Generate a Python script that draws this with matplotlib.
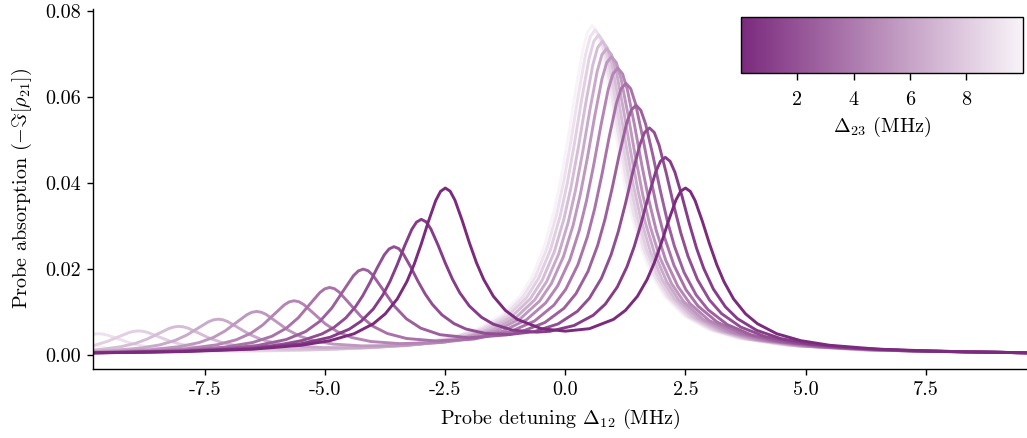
import matplotlib
matplotlib.use("Agg")
import matplotlib.pyplot as plt
from matplotlib.colors import LinearSegmentedColormap, Normalize
from matplotlib.cm import ScalarMappable

plt.rcParams.update({
    "font.family": "serif",
    "font.serif": ["cmr10"],
    "mathtext.fontset": "cm",
    "axes.unicode_minus": False,
    "axes.formatter.use_mathtext": False,
    "font.size": 14.5,
})

# coupling detuning Delta_23 (MHz) of each curve
coupling_detuning = [0.0, 0.91, 1.82, 2.73, 3.64, 4.55, 5.45, 6.36, 7.27, 8.18, 9.09, 10.0]

# probe detuning (MHz) and probe absorption read for each curve
d12_00 = [-10, -8, -6.5, -5.5, -4.9, -4.4, -4, -3.75, -3.5, -3.3, -3.15, -3, -2.85, -2.7, -2.6, -2.5, -2.4, -2.3, -2.15, -2, -1.85, -1.7, -1.5, -1.25, -1, -0.5, 0, 0.5, 1, 1.25, 1.5, 1.7, 1.85, 2, 2.15, 2.3, 2.4, 2.5, 2.6, 2.7, 2.85, 3, 3.15, 3.3, 3.5, 3.75, 4, 4.4, 4.9, 5.5, 6.5, 8, 10]
abs_00 = [.00045, .00078, .00136, .00226, .00333, .00494, .00725, .00957, .01304, .01707, .02104, .02584, .03112, .0359, .03804, .03883, .0381, .03602, .03132, .02613, .02142, .01755, .01366, .01038, .00828, .00612, .00554, .00612, .00828, .01038, .01366, .01755, .02142, .02613, .03132, .03602, .0381, .03883, .03804, .0359, .03112, .02584, .02104, .01707, .01304, .00957, .00725, .00494, .00333, .00226, .00136, .00078, .00045]

d12_01 = [-10, -8, -6.5, -5.5, -4.9, -4.5, -4.25, -4.0, -3.8, -3.65, -3.5, -3.35, -3.2, -3.1, -3.0, -2.9, -2.8, -2.65, -2.5, -2.35, -2.2, -2.0, -1.75, -1.5, -1.1, -0.6, -0.32, 0.18, 0.58, 0.83, 1.08, 1.28, 1.43, 1.58, 1.73, 1.88, 1.98, 2.08, 2.18, 2.28, 2.43, 2.58, 2.73, 2.88, 3.08, 3.33, 3.58, 3.98, 4.48, 5.08, 6.08, 7.58, 10]
abs_01 = [.00046, .00081, .00148, .00262, .00412, .006, .00788, .01069, .01395, .01716, .02103, .0253, .02916, .0309, .03155, .03097, .0293, .02553, .02137, .0176, .01449, .0114, .0088, .00716, .00577, .00531, .00552, .00685, .00925, .01183, .01581, .02049, .02513, .03076, .03698, .04259, .04508, .04597, .04504, .0425, .03682, .03054, .02483, .02012, .01533, .01121, .00846, .00574, .00383, .00257, .00153, .00085, .00044]

d12_02 = [-10, -8, -6.5, -5.97, -5.47, -5.07, -4.82, -4.57, -4.37, -4.22, -4.07, -3.92, -3.77, -3.67, -3.57, -3.47, -3.37, -3.22, -3.07, -2.92, -2.77, -2.57, -2.32, -2.07, -1.67, -1.17, -0.65, -0.15, 0.25, 0.5, 0.75, 0.95, 1.1, 1.25, 1.4, 1.55, 1.65, 1.75, 1.85, 1.95, 2.1, 2.25, 2.4, 2.55, 2.75, 3.0, 3.25, 3.65, 4.15, 4.75, 5.75, 7.25, 10]
abs_02 = [.00047, .00086, .00169, .00233, .00339, .00489, .00639, .00863, .01122, .01376, .01684, .02023, .0233, .02467, .02519, .02474, .02343, .02046, .01717, .0142, .01177, .00933, .00731, .00604, .00501, .00476, .00543, .00724, .01016, .01321, .01785, .02329, .02867, .0352, .04239, .04889, .05178, .05281, .05175, .04882, .04228, .03505, .02847, .02303, .01752, .01278, .00962, .00649, .00431, .00287, .0017, .00094, .00043]

d12_03 = [-10, -8.5, -7.21, -6.41, -5.81, -5.41, -5.11, -4.86, -4.61, -4.41, -4.31, -4.21, -4.11, -4.01, -3.81, -3.56, -3.31, -3.01, -2.61, -2.01, -1.21, -0.93, -0.43, -0.03, 0.22, 0.47, 0.67, 0.82, 0.97, 1.12, 1.27, 1.37, 1.47, 1.57, 1.67, 1.82, 1.97, 2.12, 2.27, 2.47, 2.72, 2.97, 3.37, 3.87, 4.47, 5.47, 6.97, 10]
abs_03 = [.00049, .00078, .00136, .00221, .0036, .00544, .00785, .01096, .01516, .01847, .01955, .01997, .01961, .01859, .0154, .01136, .00841, .00623, .00472, .004, .00468, .00536, .00754, .01086, .01426, .01943, .02545, .0314, .03862, .04656, .05374, .05694, .05809, .05692, .0537, .04649, .03852, .03127, .02528, .01922, .01399, .01052, .00707, .00467, .00311, .00182, .001, .00043]

d12_04 = [-10, -9, -7.91, -7.11, -6.51, -6.11, -5.81, -5.56, -5.31, -5.11, -5.01, -4.91, -4.81, -4.71, -4.51, -4.26, -4.01, -3.71, -3.31, -2.71, -1.91, -1.14, -0.64, -0.24, 0.01, 0.26, 0.46, 0.61, 0.76, 0.91, 1.06, 1.16, 1.26, 1.36, 1.46, 1.61, 1.76, 1.91, 2.06, 2.26, 2.51, 2.76, 3.16, 3.66, 4.26, 5.26, 6.76, 10]
abs_04 = [.00052, .00072, .00113, .00181, .0029, .00435, .00623, .00866, .01194, .01453, .01538, .0157, .01543, .01463, .01215, .009, .00671, .00501, .00384, .00327, .0037, .00544, .00792, .01159, .01533, .02099, .02757, .03407, .04194, .05061, .05845, .06194, .06319, .06192, .05842, .05057, .04188, .03399, .02747, .02086, .01517, .01139, .00764, .00504, .00334, .00194, .00106, .00043]

d12_05 = [-10, -8.65, -7.85, -7.25, -6.85, -6.55, -6.3, -6.05, -5.85, -5.75, -5.65, -5.55, -5.45, -5.25, -5.0, -4.75, -4.45, -4.05, -3.45, -2.65, -2.0, -1.31, -0.81, -0.41, -0.16, 0.09, 0.29, 0.44, 0.59, 0.74, 0.89, 0.99, 1.09, 1.19, 1.29, 1.44, 1.59, 1.74, 1.89, 2.09, 2.34, 2.59, 2.99, 3.49, 4.09, 5.09, 6.59, 10]
abs_05 = [.00056, .00096, .0015, .00238, .00354, .00504, .00698, .0096, .01167, .01235, .01261, .01239, .01176, .00977, .00726, .00543, .00407, .00313, .00264, .00287, .00367, .00552, .0082, .01212, .01609, .02208, .02904, .03592, .04425, .05342, .06171, .0654, .06673, .06539, .06169, .0534, .04421, .03587, .02898, .022, .01599, .01199, .00804, .00529, .0035, .00203, .0011, .00043]

d12_06 = [-10, -9.43, -8.63, -8.03, -7.63, -7.33, -7.08, -6.83, -6.63, -6.53, -6.43, -6.33, -6.23, -6.03, -5.78, -5.53, -5.23, -4.83, -4.23, -3.43, -2.5, -1.44, -0.94, -0.54, -0.29, -0.04, 0.16, 0.31, 0.46, 0.61, 0.76, 0.86, 0.96, 1.06, 1.16, 1.31, 1.46, 1.61, 1.76, 1.96, 2.21, 2.46, 2.86, 3.36, 3.96, 4.96, 6.46, 10]
abs_06 = [.00063, .0008, .00124, .00195, .00287, .00407, .00562, .00772, .00937, .00991, .01012, .00994, .00943, .00785, .00584, .00438, .00329, .00253, .00211, .00221, .00302, .00562, .00843, .01252, .01666, .02291, .03015, .03732, .04599, .05553, .06416, .068, .06938, .068, .06415, .05552, .04596, .03729, .03012, .02286, .0166, .01245, .00834, .00548, .00362, .00209, .00113, .00043]

d12_07 = [-10, -9.43, -8.83, -8.43, -8.13, -7.88, -7.63, -7.43, -7.33, -7.23, -7.13, -7.03, -6.83, -6.58, -6.33, -6.03, -5.63, -5.03, -4.23, -3.3, -2.4, -1.54, -1.04, -0.64, -0.39, -0.14, 0.06, 0.21, 0.36, 0.51, 0.66, 0.76, 0.86, 0.96, 1.06, 1.21, 1.36, 1.51, 1.66, 1.86, 2.11, 2.36, 2.76, 3.26, 3.86, 4.86, 6.36, 10]
abs_07 = [.00076, .00105, .00162, .00238, .00337, .00464, .00636, .00772, .00816, .00833, .00819, .00777, .00647, .00481, .00361, .00271, .00207, .00171, .00172, .0022, .0033, .0057, .00861, .01282, .01708, .02349, .03094, .0383, .04722, .05702, .06589, .06984, .07126, .06983, .06588, .05701, .0472, .03828, .03092, .02346, .01704, .01277, .00855, .00562, .00371, .00214, .00116, .00043]

d12_08 = [-10, -9.65, -9.25, -8.95, -8.7, -8.45, -8.25, -8.15, -8.05, -7.95, -7.85, -7.65, -7.4, -7.15, -6.85, -6.45, -5.85, -5.05, -4.0, -3.0, -2.2, -1.63, -1.13, -0.73, -0.48, -0.23, -0.03, 0.12, 0.27, 0.42, 0.57, 0.67, 0.77, 0.87, 0.97, 1.12, 1.27, 1.42, 1.57, 1.77, 2.02, 2.27, 2.67, 3.17, 3.77, 4.77, 6.27, 10]
abs_08 = [.00102, .00132, .00193, .00271, .00373, .00509, .00617, .00652, .00666, .00654, .00621, .00517, .00386, .0029, .00218, .00168, .00138, .00136, .00172, .00255, .00392, .00579, .00878, .01309, .01745, .02403, .03166, .03919, .04832, .05836, .06744, .07148, .07294, .07148, .06743, .05836, .04831, .03918, .03164, .02401, .01743, .01306, .00874, .00574, .00378, .00218, .00118, .00043]

d12_09 = [-10, -9.79, -9.54, -9.29, -9.09, -8.99, -8.89, -8.79, -8.69, -8.49, -8.24, -7.99, -7.69, -7.29, -6.69, -5.89, -4.8, -3.6, -2.6, -1.71, -1.21, -0.81, -0.56, -0.31, -0.11, 0.04, 0.19, 0.34, 0.49, 0.59, 0.69, 0.79, 0.89, 1.04, 1.19, 1.34, 1.49, 1.69, 1.94, 2.19, 2.59, 3.09, 3.69, 4.69, 6.19, 10]
abs_09 = [.0018, .00229, .00314, .00429, .00519, .00548, .0056, .0055, .00522, .00435, .00325, .00244, .00184, .0014, .00114, .0011, .00134, .00202, .00329, .00588, .00893, .01334, .0178, .0245, .03229, .03999, .0493, .05955, .06881, .07294, .07443, .07294, .06881, .05955, .0493, .03998, .03229, .0245, .01778, .01332, .00891, .00585, .00386, .00223, .0012, .00043]

d12_10 = [-10, -9.93, -9.83, -9.73, -9.63, -9.53, -9.33, -9.08, -8.83, -8.53, -8.13, -7.53, -6.73, -5.6, -4.4, -3.2, -2.4, -1.78, -1.28, -0.88, -0.63, -0.38, -0.18, -0.03, 0.12, 0.27, 0.42, 0.52, 0.62, 0.72, 0.82, 0.97, 1.12, 1.27, 1.42, 1.62, 1.87, 2.12, 2.52, 3.02, 3.62, 4.62, 6.12, 10]
abs_10 = [.00433, .00458, .00485, .00494, .00486, .00461, .00384, .00286, .00215, .00161, .00122, .00098, .00092, .00107, .00152, .00251, .0039, .00596, .00907, .01355, .01807, .02489, .0328, .04062, .05008, .0605, .06991, .07411, .07562, .07411, .06991, .0605, .05008, .04061, .03279, .02488, .01806, .01354, .00906, .00595, .00392, .00226, .00122, .00043]

d12_11 = [-10, -9.79, -9.59, -9.34, -9.09, -8.69, -8.19, -7.59, -6.6, -5.4, -4.2, -3.0, -2.2, -1.84, -1.34, -0.94, -0.69, -0.44, -0.24, -0.09, 0.06, 0.21, 0.36, 0.46, 0.56, 0.66, 0.76, 0.91, 1.06, 1.21, 1.36, 1.56, 1.81, 2.06, 2.46, 2.96, 3.56, 4.56, 6.06, 10]
abs_11 = [.00273, .00213, .00171, .00136, .00113, .00093, .00081, .00077, .00085, .00112, .00167, .00289, .00466, .00603, .00917, .01371, .0183, .02521, .03323, .04115, .05073, .06129, .07083, .07508, .07661, .07508, .07083, .06129, .05073, .04115, .03323, .02521, .0183, .01371, .00917, .00603, .00396, .00228, .00122, .00042]

probe_detuning = [d12_00, d12_01, d12_02, d12_03, d12_04, d12_05,
                  d12_06, d12_07, d12_08, d12_09, d12_10, d12_11]
absorption = [abs_00, abs_01, abs_02, abs_03, abs_04, abs_05,
              abs_06, abs_07, abs_08, abs_09, abs_10, abs_11]

x_ticks = [-7.5, -5.0, -2.5, 0.0, 2.5, 5.0, 7.5]
y_ticks = [0.00, 0.02, 0.04, 0.06, 0.08]
cbar_ticks = [2, 4, 6, 8]

cmap = LinearSegmentedColormap.from_list("purple_white", ["#7b2a7d", "#f8f3f8"])
norm = Normalize(vmin=0, vmax=10)

fig = plt.figure(figsize=(10.27, 4.38), dpi=100)
ax = fig.add_axes([93 / 1027, 1 - 369 / 438, (1027 - 93) / 1027, 360 / 438])

for d23, xs, ys in reversed(list(zip(coupling_detuning, probe_detuning, absorption))):
    ax.plot(xs, ys, color=cmap(norm(d23)), lw=2.1,
            solid_capstyle="round", solid_joinstyle="round")

ax.set_xlim(-9.834, 9.609)
ax.set_ylim(-0.00326, 0.08047)
ax.set_xticks(x_ticks)
ax.set_yticks(y_ticks)
ax.xaxis.set_major_formatter(matplotlib.ticker.FormatStrFormatter("%.1f"))
ax.yaxis.set_major_formatter(matplotlib.ticker.FormatStrFormatter("%.2f"))
ax.spines["top"].set_visible(False)
ax.spines["right"].set_visible(False)
for s in ("left", "bottom"):
    ax.spines[s].set_linewidth(1.0)
ax.tick_params(direction="out", length=4.5, width=1.0, pad=4)
ax.set_xlabel(r"Probe detuning $\Delta_{12}$ (MHz)", labelpad=6)
ax.set_ylabel(r"Probe absorption $(-\Im[\rho_{21}])$", labelpad=8)

cax = fig.add_axes([740.7 / 1027, 1 - 73.3 / 438, 282 / 1027, 56 / 438])
sm = ScalarMappable(norm=norm, cmap=cmap)
cb = fig.colorbar(sm, cax=cax, orientation="horizontal", ticks=cbar_ticks)
cb.outline.set_linewidth(1.0)
cax.tick_params(direction="out", length=5.3, width=1.0, pad=7.5)
cb.set_label(r"$\Delta_{23}$ (MHz)", labelpad=4)

fig.savefig("out.png", dpi=100)
